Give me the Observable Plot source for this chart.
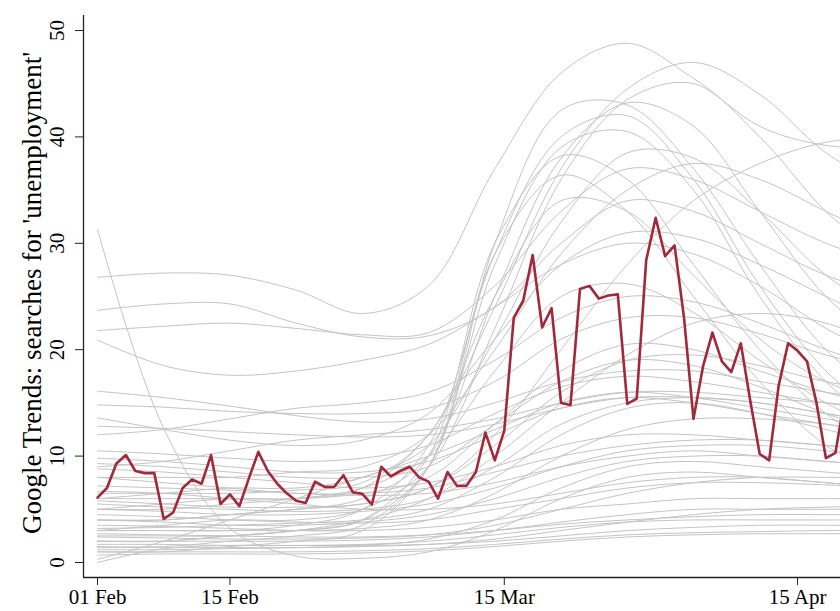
<!DOCTYPE html>
<html><head><meta charset="utf-8">
<script src="https://cdn.jsdelivr.net/npm/d3@7"></script>
<script src="https://cdn.jsdelivr.net/npm/@observablehq/plot@0.6"></script>
<style>
html,body{margin:0;padding:0;background:#fff;overflow:hidden;}
</style></head><body><div id="chart"></div>
<script>
// National daily series (starting 01 Feb 2020)
const redStart = "2020-02-01";
const redValues = [6.1,7.0,9.3,10.1,8.6,8.4,8.4,4.1,4.7,7.0,7.8,7.4,10.1,5.5,6.4,5.3,7.9,10.4,8.6,7.4,
  6.5,5.8,5.6,7.6,7.1,7.1,8.2,6.6,6.45,5.45,9.0,8.1,8.6,9.0,8.0,7.6,6.0,8.5,7.2,7.2,
  8.5,12.2,9.6,12.4,23.0,24.6,28.9,22.1,23.9,15.0,14.8,25.7,26.0,24.8,25.1,25.2,14.9,15.4,28.4,32.4,
  28.8,29.8,23.0,13.5,18.4,21.6,18.9,17.9,20.6,15.2,10.2,9.6,16.6,20.6,19.9,18.9,15.0,9.8,10.3,15.5,14.0];

// Smoothed state series, read at weekly dates
const stateDates = ["2020-02-01","2020-02-08","2020-02-15","2020-02-22","2020-02-29","2020-03-07",
  "2020-03-14","2020-03-21","2020-03-28","2020-04-04","2020-04-11","2020-04-18","2020-04-25"];
const stateCurves = [
  [26.8,27.2,27.0,25.6,23.4,26.0,37.0,46.0,48.8,45.5,41.0,39.2,39.0],
  [5,5.5,6,6,7,12,24,37,44.5,47.0,44,38.5,35],
  [3,3.5,4,4,5,9,22,36,43.5,45,40,33,28],
  [2,2,2.5,3,4,9,30,42.5,43,37,28,20,15],
  [4,4,4.5,5,6,10,25,38,43.2,41,33,25,20],
  [3,3,3,3.5,5,11,29,40,42,36,26,18,13],
  [1.5,1.5,2,2.5,3.5,9,28,39,40.5,35,25,17,12],
  [6,6.5,7,7,8,11,21,32,38.5,38,33,27,23],
  [2.5,2.5,2.5,3,4,10,30,38.2,36,28,20,14,10],
  [1,1,1.5,2,3,9,29,36.4,33,25,17,11,8],
  [8,8,8,8.5,9,12,20,29,35,37.5,36,33,30],
  [13.6,12.5,11.5,11,11.5,14,21,28,31,30.5,28,25,22],
  [5,5,5.5,6,7,10,18,25,26.2,23.5,19,15,12],
  [2,2,2.5,3,4,6,10,15,19.5,22.5,23.4,22.5,20],
  [9.3,9,8.5,8,8,9,13,17,19,18.5,16.5,14,12],
  [4,4,4.5,5,5.5,7,12,20,28,34,37.5,39.5,40],
  [6.5,6.5,6.5,6.8,7.5,12,25,34,33,27,21,17,15],
  [20.9,18.5,17.6,18,19,20.5,24,28,30,29,26,22,19],
  [23.7,24.3,24.3,22.5,21.2,21.3,24,30,34,33,30,27,25],
  [21.8,22.2,22.5,22,21.4,21.6,26,33,37,36,33,30,28],
  [12,12.5,13.5,14.5,15,16,19,23,25,24.5,22.5,20,18],
  [9.0,9.5,10.5,11.5,12,12.5,13.5,15,16,16,15.5,15,14.5],
  [16.1,15.5,14.7,13.8,13.2,13.5,15,17,18,18,17,16,15],
  [14.8,14.6,14.2,14,14,14.5,17,21,23,23,21.5,19.5,18],
  [12.8,12.6,12.3,12,11.8,12,13,14.5,15.5,15.5,15,14,13],
  [31.3,12.6,3.2,0.6,0.4,1,3,6,8,8.5,8,7.5,7],
  [0.3,2,4,6,8,10,12.5,15,16,15.5,14.5,13.5,12.5],
  [10.5,10.2,9.8,9.5,9.8,11,14,16.5,17.5,17,16,15,14],
  [9.8,9.5,9,8.5,8.5,9.5,12,14.5,15.5,15,14,13,12],
  [8.8,8.5,8,7.5,7,7.5,9,11,12,12,11.5,11,10.5],
  [8.0,7.5,7,6.5,6.5,7,8.5,10,11,11.5,11.5,11,10.5],
  [7.2,7,6.8,6.5,6.3,6.5,7.5,9,10,10.5,10,9.5,9],
  [6.7,6.5,6,5.5,5,5,5.5,6.5,7.5,8,8,7.5,7],
  [6.0,6,6,6,6.5,8,13,18,20.5,20,18,16,14.5],
  [5.5,5.2,5,4.8,5,6,9,13,15,15.5,15,14,13],
  [5.0,4.8,4.5,4.5,4.8,5.5,7,9,10.5,11,11,10.5,10],
  [4.5,4.3,4,3.8,3.7,4,5,6,7,7.5,7.5,7.3,7],
  [4.0,3.8,3.5,3.5,3.8,4.5,6,8,9.5,10,10,9.5,9],
  [3.5,3.4,3.2,3,3,3.3,4,5,5.5,6,6,6,6],
  [3.0,3,3,3,3.2,4,6.5,10,12.5,13.5,13.5,13,12],
  [2.7,2.6,2.5,2.4,2.4,2.6,3,3.6,4,4.3,4.5,4.5,4.5],
  [2.4,2.3,2.2,2.2,2.3,2.6,3.5,5,6.5,7.5,8,8,8],
  [2.0,2,2,2,2.1,2.4,3,3.8,4.5,5,5,5,5],
  [1.7,1.7,1.6,1.6,1.7,2,2.6,3.3,3.8,4,4,4,4],
  [1.4,1.4,1.4,1.4,1.5,1.7,2.2,3,3.8,4.5,5,5.2,5.3],
  [1.0,1.0,1.0,1.0,1.1,1.3,1.7,2.2,2.6,2.8,2.9,3,3],
  [0.7,0.8,0.8,0.8,0.9,1.1,1.5,2,2.4,2.6,2.7,2.7,2.7],
  [0.0,1.3,1.6,1.6,1.6,1.7,2,2.5,3,3.3,3.5,3.5,3.5],
  [5.8,5.5,5.2,5.2,5.5,7,11,16,19,19.5,18.5,17,16],
  [3.2,3.3,3.5,3.7,4,5,8,12,14.5,15,14,12.5,11],
  [1.2,1.2,1.3,1.4,1.6,2.2,4,7,9,9.5,9,8.5,8]
];

const xTickDates = ["2020-02-01","2020-02-15","2020-03-15","2020-04-15"];
const xTickLabels = ["01 Feb","15 Feb","15 Mar","15 Apr"];
const yTicks = [0,10,20,30,40,50];
const yLabel = "Google Trends: searches for 'unemployment'";

const DAY = 864e5;
const t0 = +new Date(redStart);
const red = redValues.map((v, i) => ({date: new Date(t0 + i * DAY), v}));
const gray = stateCurves.flatMap((arr, k) => arr.map((v, j) => ({state: k, date: new Date(stateDates[j]), v})));
const xTicks = xTickDates.map(d => new Date(d));
const xDomain = [new Date(t0 - 1.48 * DAY), new Date(t0 + 78.54 * DAY)];
const yDomain = [-1.41, 51.41];

const chart = Plot.plot({
  width: 840, height: 611,
  marginLeft: 83, marginRight: 0, marginTop: 15, marginBottom: 34,
  x: {type: "utc", domain: xDomain},
  y: {domain: yDomain},
  style: {fontFamily: "'Liberation Serif', 'Times New Roman', serif", background: "#fff", color: "#000"},
  marks: [
    Plot.lineY(gray, {x: "date", y: "v", z: "state", stroke: "#c4c4c4", strokeWidth: 1, curve: "catmull-rom", clip: true}),
    Plot.lineY(red, {x: "date", y: "v", stroke: "#a0293b", strokeWidth: 2.6, clip: true}),
    Plot.ruleX([xDomain[0]], {stroke: "#222", strokeWidth: 1.3}),
    Plot.ruleY([yDomain[0]], {stroke: "#222", strokeWidth: 1.3}),
    Plot.axisX(xTicks, {tickSize: 8, tickPadding: 4, fontSize: 21, stroke: "#222",
      tickFormat: d => xTickLabels[xTicks.findIndex(t => +t === +d)], label: null}),
    Plot.axisY(yTicks, {tickSize: 8, tickPadding: 12, fontSize: 21, stroke: "#222", tickRotate: -90, label: null}),
    Plot.text([yLabel], {frameAnchor: "left", textAnchor: "middle", rotate: -90, dx: -51, dy: -3.5, fontSize: 27, text: d => d, fill: "#000"})
  ]
});
document.getElementById("chart").appendChild(chart);
</script></body></html>
